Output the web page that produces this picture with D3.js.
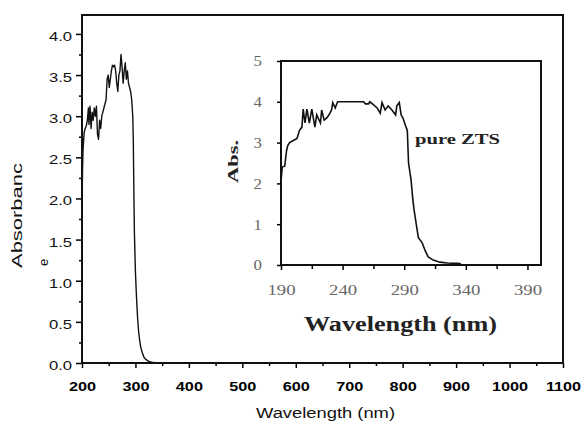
<!DOCTYPE html>
<html>
<head>
<meta charset="utf-8">
<script src="https://cdn.jsdelivr.net/npm/d3@7"></script>
<style>
  body { margin: 0; background: #fff; }
  svg { display: block; }
</style>
</head>
<body>
<svg id="chart" width="587" height="423"></svg>
<script>
// Full-range UV-Vis absorbance spectrum (wavelength in nm, absorbance)
const mainNm = [200, 201, 202, 204, 206, 208, 210, 212, 213, 215, 217, 219, 221, 223, 225, 227, 229, 231, 233, 235,
  237, 239, 241, 243, 245, 247, 249, 251, 253, 255, 257, 259, 261, 263, 265, 267, 269, 271, 273, 275,
  277, 279, 281, 283, 285, 287, 289, 291, 293, 295, 296, 297, 298, 300, 302, 304, 306, 308, 310, 313,
  316, 320, 325, 330, 340, 1100];
const mainAbs = [1.9, 2.35, 2.6, 2.8, 2.85, 2.88, 2.95, 3.1, 2.9, 3.12, 2.85, 3.05, 2.95, 3.1, 3.0, 3.12, 2.78, 2.72, 2.95, 2.85,
  3.0, 3.05, 3.1, 3.15, 3.2, 3.45, 3.5, 3.35, 3.45, 3.55, 3.62, 3.6, 3.62, 3.55, 3.4, 3.3, 3.5, 3.55, 3.75, 3.6,
  3.4, 3.55, 3.65, 3.45, 3.55, 3.4, 3.35, 3.3, 3.2, 3.0, 2.7, 2.1, 1.6, 1.1, 0.8, 0.55, 0.38, 0.27, 0.19, 0.12,
  0.07, 0.04, 0.02, 0.01, 0, 0];

// Close-up of the absorption edge, pure ZTS
const insetNm = [190, 191, 193, 194.5, 195.5, 197, 200, 203, 205, 207, 208, 209.5, 211, 213, 215, 217.5, 219, 222, 223, 225,
  227, 229, 231, 232, 234, 236, 250, 257, 258.5, 261, 262, 265, 268, 270.5, 272, 274.5, 277, 280, 283, 284,
  286, 287.5, 289, 291, 292.5, 293.5, 295.5, 297, 298, 300, 301.5, 304.5, 307, 309.5, 313.5, 319, 325, 333, 336];
const insetAbs = [2.05, 2.4, 2.42, 2.8, 2.93, 3.0, 3.05, 3.1, 3.3, 3.38, 3.82, 3.48, 3.82, 3.48, 3.82, 3.38, 3.68, 3.48, 3.8, 3.55,
  3.6, 3.68, 3.8, 3.98, 3.85, 4.0, 4.0, 4.0, 3.95, 3.95, 4.0, 3.93, 3.85, 3.72, 3.98, 3.8, 3.9, 3.8, 3.68, 3.9,
  3.98, 3.68, 3.6, 3.42, 3.3, 2.5, 2.1, 1.6, 1.35, 0.95, 0.67, 0.55, 0.35, 0.2, 0.12, 0.07, 0.05, 0.04, 0.03];

const mainXTicks = [200, 300, 400, 500, 600, 700, 800, 900, 1000, 1100];
const mainXMinor = [250, 350, 450, 550, 650, 750, 850, 950, 1050];
const mainYTicks = [0, 0.5, 1.0, 1.5, 2.0, 2.5, 3.0, 3.5, 4.0];
const mainYMinor = [0.25, 0.75, 1.25, 1.75, 2.25, 2.75, 3.25, 3.75];
const insetXTicks = [190, 240, 290, 340, 390];
const insetXMinor = [215, 265, 315, 365];
const insetYTicks = [0, 1, 2, 3, 4, 5];

const svg = d3.select("#chart");
const WIDEN = 1.28;

// Text in this figure is set wide; stretch each label horizontally.
function widen(sel, factor) {
  sel.each(function () {
    const w = this.getComputedTextLength();
    d3.select(this).attr("textLength", w * (factor || WIDEN)).attr("lengthAdjust", "spacingAndGlyphs");
  });
}

// ---------- main panel ----------
const x = d3.scaleLinear().domain([200, 1100]).range([82, 563]);
const y = d3.scaleLinear().domain([0, 4.23]).range([363, 15]);

const sansFont = "'Liberation Sans', Arial, sans-serif";

function styleAxis(g, font, size, color) {
  g.select(".domain").remove();
  g.selectAll(".tick line").attr("stroke", "#000").attr("stroke-width", 1.5);
  g.selectAll(".tick text").attr("font-family", font).attr("font-size", size).attr("fill", color);
}

const yAxisG = svg.append("g").attr("transform", `translate(${x.range()[0]},0)`)
  .call(d3.axisLeft(y).tickValues(mainYTicks).tickSize(6).tickPadding(4).tickFormat(d3.format(".1f")));
styleAxis(yAxisG, sansFont, 13, "#111");
yAxisG.selectAll(".tick text").attr("dy", "0.5em");
widen(yAxisG.selectAll(".tick text"));

svg.append("g").attr("transform", `translate(${x.range()[0]},0)`)
  .call(d3.axisLeft(y).tickValues(mainYMinor).tickSize(3).tickFormat(""))
  .call(g => styleAxis(g, sansFont, 13, "#111"));

const xAxisG = svg.append("g").attr("transform", `translate(0,${y(0)})`)
  .call(d3.axisBottom(x).tickValues(mainXTicks).tickSize(5).tickPadding(14).tickFormat(d3.format("d")));
styleAxis(xAxisG, sansFont, 13, "#000");
xAxisG.selectAll(".tick text").attr("font-weight", "bold");
widen(xAxisG.selectAll(".tick text"), 1.25);

svg.append("g").attr("transform", `translate(0,${y(0)})`)
  .call(d3.axisBottom(x).tickValues(mainXMinor).tickSize(3).tickFormat(""))
  .call(g => styleAxis(g, sansFont, 13, "#000"));

// frame
svg.append("rect")
  .attr("x", x.range()[0]).attr("y", y.range()[1])
  .attr("width", x.range()[1] - x.range()[0]).attr("height", y.range()[0] - y.range()[1])
  .attr("fill", "none").attr("stroke", "#111").attr("stroke-width", 2);

const mainLine = d3.line().x((d, i) => x(mainNm[i])).y((d, i) => y(mainAbs[i]));
svg.append("path").datum(mainAbs)
  .attr("d", mainLine)
  .attr("fill", "none").attr("stroke", "#111").attr("stroke-width", 1.4).attr("stroke-linejoin", "round");

// axis titles
svg.append("text")
  .attr("x", 256).attr("y", 418)
  .attr("font-family", sansFont).attr("font-size", 14).attr("fill", "#111")
  .attr("textLength", 139).attr("lengthAdjust", "spacingAndGlyphs")
  .text("Wavelength (nm)");

const yTitle = svg.append("text")
  .attr("transform", "translate(22,268) rotate(-90)")
  .attr("font-family", sansFont).attr("font-size", 15).attr("fill", "#111");
yTitle.append("tspan").attr("x", 0).attr("y", 0)
  .attr("textLength", 105).attr("lengthAdjust", "spacingAndGlyphs").text("Absorbanc");
yTitle.append("tspan").attr("x", 2).attr("y", 26).attr("font-size", 13).text("e");

// ---------- inset panel ----------
const ix = d3.scaleLinear().domain([190, 401]).range([281, 541]);
const iy = d3.scaleLinear().domain([0, 5]).range([265, 61]);
const serifFont = "'Liberation Serif', 'Times New Roman', serif";

svg.append("rect")
  .attr("x", ix.range()[0]).attr("y", iy.range()[1])
  .attr("width", ix.range()[1] - ix.range()[0]).attr("height", iy.range()[0] - iy.range()[1])
  .attr("fill", "#fff").attr("stroke", "#111").attr("stroke-width", 2);

const iyAxisG = svg.append("g").attr("transform", `translate(${ix.range()[0]},0)`)
  .call(d3.axisLeft(iy).tickValues(insetYTicks).tickSize(4).tickPadding(15).tickFormat(d3.format("d")));
styleAxis(iyAxisG, serifFont, 14, "#666");
iyAxisG.selectAll(".tick text").attr("dy", "0.35em");
widen(iyAxisG.selectAll(".tick text"), 1.2);

const ixAxisG = svg.append("g").attr("transform", `translate(0,${iy(0)})`)
  .call(d3.axisBottom(ix).tickValues(insetXTicks).tickSize(5).tickPadding(14).tickFormat(d3.format("d")));
styleAxis(ixAxisG, serifFont, 15, "#666");
widen(ixAxisG.selectAll(".tick text"), 1.25);

svg.append("g").attr("transform", `translate(0,${iy(0)})`)
  .call(d3.axisBottom(ix).tickValues(insetXMinor).tickSize(4).tickFormat(""))
  .call(g => styleAxis(g, serifFont, 15, "#666"));

const insetLine = d3.line().x((d, i) => ix(insetNm[i])).y((d, i) => iy(insetAbs[i]));
svg.append("path").datum(insetAbs)
  .attr("d", insetLine)
  .attr("fill", "none").attr("stroke", "#111").attr("stroke-width", 1.6).attr("stroke-linejoin", "miter");

svg.append("text")
  .attr("x", 304).attr("y", 331)
  .attr("font-family", serifFont).attr("font-size", 20).attr("font-weight", "bold").attr("fill", "#222")
  .attr("textLength", 193).attr("lengthAdjust", "spacingAndGlyphs")
  .text("Wavelength (nm)");

svg.append("text")
  .attr("transform", "translate(238,183) rotate(-90)")
  .attr("font-family", serifFont).attr("font-size", 15).attr("font-weight", "bold").attr("fill", "#222")
  .attr("textLength", 43).attr("lengthAdjust", "spacingAndGlyphs")
  .text("Abs.");

svg.append("text")
  .attr("x", 415).attr("y", 144)
  .attr("font-family", serifFont).attr("font-size", 15).attr("font-weight", "bold").attr("fill", "#222")
  .attr("textLength", 85).attr("lengthAdjust", "spacingAndGlyphs")
  .text("pure ZTS");
</script>
</body>
</html>
